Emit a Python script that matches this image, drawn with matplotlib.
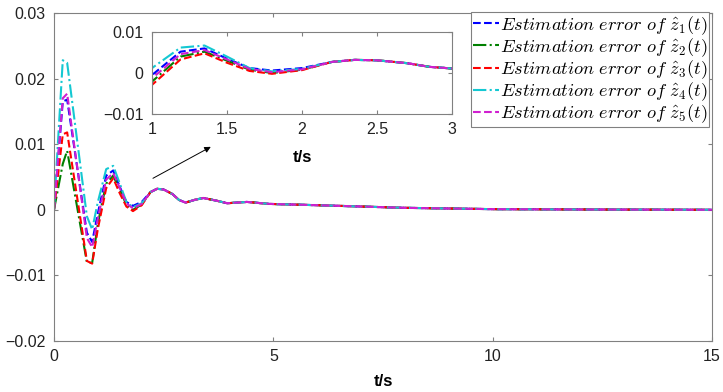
import matplotlib
matplotlib.use('Agg')
import matplotlib.pyplot as plt
import numpy as np

plt.rcParams['font.family'] = ['Liberation Sans', 'DejaVu Sans']
plt.rcParams['mathtext.fontset'] = 'cm'
plt.rcParams['axes.unicode_minus'] = True

# time knots of the transient part (all five errors differ here)
t_early = [0, 0.2, 0.3, 0.75, 0.87, 1.0, 1.19, 1.35, 1.5, 1.65, 1.8, 2.0]
err1 = [0, 0.0165, 0.0168, -0.0035, -0.0049, -0.0005, 0.0052, 0.0060, 0.0035, 0.0012, 0.0006, 0.0012]
err2 = [0, 0.0070, 0.0090, -0.0080, -0.0081, -0.0021, 0.0040, 0.0052, 0.0030, 0.0008, 0.0000, 0.0008]
err3 = [0, 0.0115, 0.0118, -0.0078, -0.0082, -0.0029, 0.0033, 0.0048, 0.0025, 0.0005, -0.0002, 0.0007]
err4 = [0, 0.0228, 0.0224, -0.0010, -0.0030, 0.0012, 0.0062, 0.0067, 0.0040, 0.0012, 0.0004, 0.0010]
err5 = [0, 0.0170, 0.0177, -0.0043, -0.0057, -0.0013, 0.0046, 0.0056, 0.0033, 0.0010, 0.0002, 0.0009]

# after t = 2 s the five errors coincide
t_tail = [2.2, 2.35, 2.5, 2.7, 2.85, 3.0, 3.2, 3.4, 3.7, 3.95, 4.4, 4.9, 6.0, 8.0, 10.0, 12.0, 15.0]
err_tail = [0.0027, 0.0032, 0.0031, 0.0024, 0.0015, 0.0011, 0.0015, 0.0018, 0.0014, 0.0010, 0.0012, 0.0009, 0.0007, 0.0003, 0.0001, 0.00005, 0.0]

series = [err1, err2, err3, err4, err5]
colors = ['#0000ff', '#008000', '#ff0000', '#14c8d2', '#d01fd0']
styles = ['--', '-.', '--', '-.', '--']
labels = [r'$Estimation\ error\ of\ \hat{z}_{%d}(t)$' % (i + 1) for i in range(5)]

t = np.array(t_early + t_tail)

fig = plt.figure(figsize=(7.23, 3.92), dpi=100)
ax = fig.add_axes([54 / 723, 1 - 341 / 392, 658 / 723, 328 / 392])
ins = fig.add_axes([152 / 723, 1 - 114 / 392, 300 / 723, 82 / 392])

for a in (ax, ins):
    for vals, c, ls, lab in zip(series, colors, styles, labels):
        y = np.array(vals + err_tail)
        a.plot(t, y, ls, color=c, lw=1.5, label=lab)
    for s in a.spines.values():
        s.set_color('#808080')
        s.set_linewidth(0.8)
    a.tick_params(direction='in', top=True, right=True, colors='#808080',
                  labelcolor='#222222', labelsize=11.5, length=3, pad=6)

ax.set_xlim(0, 15)
ax.set_ylim(-0.02, 0.03)
ax.set_xticks([0, 5, 10, 15])
ax.set_yticks([-0.02, -0.01, 0, 0.01, 0.02, 0.03])
ax.set_yticklabels(['\u22120.02', '\u22120.01', '0', '0.01', '0.02', '0.03'])
ax.set_xlabel('t/s', fontweight='bold', fontsize=12, labelpad=7)

ins.set_xlim(1, 3)
ins.set_ylim(-0.01, 0.01)
ins.set_xticks([1, 1.5, 2, 2.5, 3])
ins.set_xticklabels(['1', '1.5', '2', '2.5', '3'])
ins.set_yticks([-0.01, 0, 0.01])
ins.set_yticklabels(['\u22120.01', '0', '0.01'])
ins.set_xlabel('t/s', fontweight='bold', fontsize=12, labelpad=9)

ax.annotate('', xy=(3.63, 0.0098), xytext=(2.2, 0.0046),
            arrowprops=dict(arrowstyle='-|>', color='black', lw=0.7,
                            mutation_scale=9))

leg = ax.legend(loc='upper right', bbox_to_anchor=(0.996, 1.004), fontsize=13.2,
                frameon=True, fancybox=False, framealpha=1, edgecolor='#808080',
                borderpad=0.12, labelspacing=-0.03, handlelength=1.4,
                handletextpad=0.05, borderaxespad=0)
leg.get_frame().set_linewidth(0.8)
leg.set_zorder(10)

fig.savefig('out.png', dpi=100)
